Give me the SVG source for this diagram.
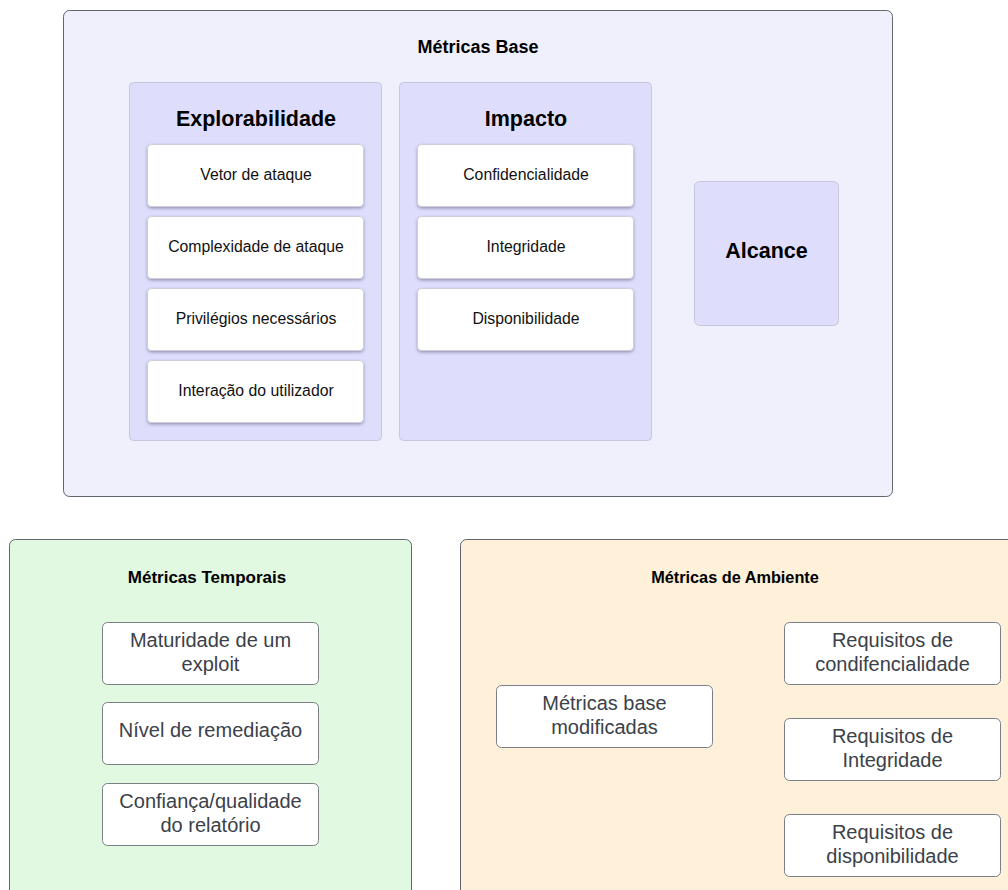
<svg xmlns="http://www.w3.org/2000/svg" width="1008" height="890" viewBox="0 0 1008 890">
  <defs>
    <filter id="cardShadow" x="-10%" y="-20%" width="120%" height="150%">
      <feDropShadow dx="0" dy="1.5" stdDeviation="1.5" flood-color="#3a3a5a" flood-opacity="0.45"/>
    </filter>
    <style>
      .frame { stroke: #5f6670; stroke-width: 1; }
      .base { fill: #f0f0fc; }
      .temporal { fill: #e1f8e1; }
      .ambient { fill: #fef0d9; }
      .group { fill: #dedefc; stroke: #c5c7de; stroke-width: 1; }
      .card { fill: #ffffff; stroke: #c8c8d8; stroke-width: 0.8; filter: url(#cardShadow); }
      .plain { fill: #ffffff; stroke: #7a7f86; stroke-width: 1; }
      text { font-family: "Liberation Sans", Arial, sans-serif; text-anchor: middle; dominant-baseline: central; }
      .title { font-size: 17px; font-weight: bold; fill: #000; }
      .heading { font-size: 21.5px; font-weight: bold; fill: #000; }
      .label { font-size: 15.8px; fill: #111; }
      .label2 { font-size: 20px; fill: #3b414a; }
    </style>
  </defs>

  <!-- Base metrics container -->
  <g id="metricas-base">
    <rect class="frame base" x="63.5" y="10.5" width="829" height="486" rx="6"/>
    <text class="title" x="478" y="47" style="font-size:18px">Métricas Base</text>
  </g>

  <g id="explorabilidade">
    <rect class="group" x="129.5" y="82.5" width="252" height="358" rx="4"/>
    <text class="heading" x="256" y="119">Explorabilidade</text>
  </g>
  <g id="vetor-ataque">
    <rect class="card" x="147.5" y="144.5" width="216" height="62" rx="4"/>
    <text class="label" x="256" y="174">Vetor de ataque</text>
  </g>
  <g id="complexidade-ataque">
    <rect class="card" x="147.5" y="216.5" width="216" height="62" rx="4"/>
    <text class="label" x="256" y="246">Complexidade de ataque</text>
  </g>
  <g id="privilegios">
    <rect class="card" x="147.5" y="288.5" width="216" height="62" rx="4"/>
    <text class="label" x="256" y="318">Privilégios necessários</text>
  </g>
  <g id="interacao">
    <rect class="card" x="147.5" y="360.5" width="216" height="62" rx="4"/>
    <text class="label" x="256" y="390">Interação do utilizador</text>
  </g>

  <g id="impacto">
    <rect class="group" x="399.5" y="82.5" width="252" height="358" rx="4"/>
    <text class="heading" x="526" y="119">Impacto</text>
  </g>
  <g id="confidencialidade">
    <rect class="card" x="417.5" y="144.5" width="216" height="62" rx="4"/>
    <text class="label" x="526" y="174">Confidencialidade</text>
  </g>
  <g id="integridade">
    <rect class="card" x="417.5" y="216.5" width="216" height="62" rx="4"/>
    <text class="label" x="526" y="246">Integridade</text>
  </g>
  <g id="disponibilidade">
    <rect class="card" x="417.5" y="288.5" width="216" height="62" rx="4"/>
    <text class="label" x="526" y="318">Disponibilidade</text>
  </g>

  <g id="alcance">
    <rect class="group" x="694.5" y="181.5" width="144" height="144" rx="5"/>
    <text class="heading" x="766.5" y="251">Alcance</text>
  </g>

  <!-- Temporal metrics -->
  <g id="metricas-temporais">
    <rect class="frame temporal" x="9.5" y="539.5" width="402" height="360" rx="6"/>
    <text class="title" x="207" y="577">Métricas Temporais</text>
  </g>
  <g id="maturidade">
    <rect class="plain" x="102.5" y="622.5" width="216" height="62" rx="5"/>
    <text class="label2" x="210.5" y="640">Maturidade de um</text>
    <text class="label2" x="210.5" y="664">exploit</text>
  </g>
  <g id="remediacao">
    <rect class="plain" x="102.5" y="702.5" width="216" height="62" rx="5"/>
    <text class="label2" x="210.5" y="730">Nível de remediação</text>
  </g>
  <g id="confianca">
    <rect class="plain" x="102.5" y="783.5" width="216" height="62" rx="5"/>
    <text class="label2" x="210.5" y="801">Confiança/qualidade</text>
    <text class="label2" x="210.5" y="825">do relatório</text>
  </g>

  <!-- Environmental metrics -->
  <g id="metricas-ambiente">
    <rect class="frame ambient" x="460.5" y="539.5" width="560" height="360" rx="6"/>
    <text class="title" x="735" y="577" style="font-size:16.3px">Métricas de Ambiente</text>
  </g>
  <g id="base-modificadas">
    <rect class="plain" x="496.5" y="685.5" width="216" height="62" rx="5"/>
    <text class="label2" x="604.5" y="703">Métricas base</text>
    <text class="label2" x="604.5" y="727">modificadas</text>
  </g>
  <g id="req-confidencialidade">
    <rect class="plain" x="784.5" y="622.5" width="216" height="62" rx="5"/>
    <text class="label2" x="892.5" y="640">Requisitos de</text>
    <text class="label2" x="892.5" y="664">condifencialidade</text>
  </g>
  <g id="req-integridade">
    <rect class="plain" x="784.5" y="718.5" width="216" height="62" rx="5"/>
    <text class="label2" x="892.5" y="736">Requisitos de</text>
    <text class="label2" x="892.5" y="760">Integridade</text>
  </g>
  <g id="req-disponibilidade">
    <rect class="plain" x="784.5" y="814.5" width="216" height="62" rx="5"/>
    <text class="label2" x="892.5" y="832">Requisitos de</text>
    <text class="label2" x="892.5" y="856">disponibilidade</text>
  </g>

  <g id="connectors"/>
</svg>
